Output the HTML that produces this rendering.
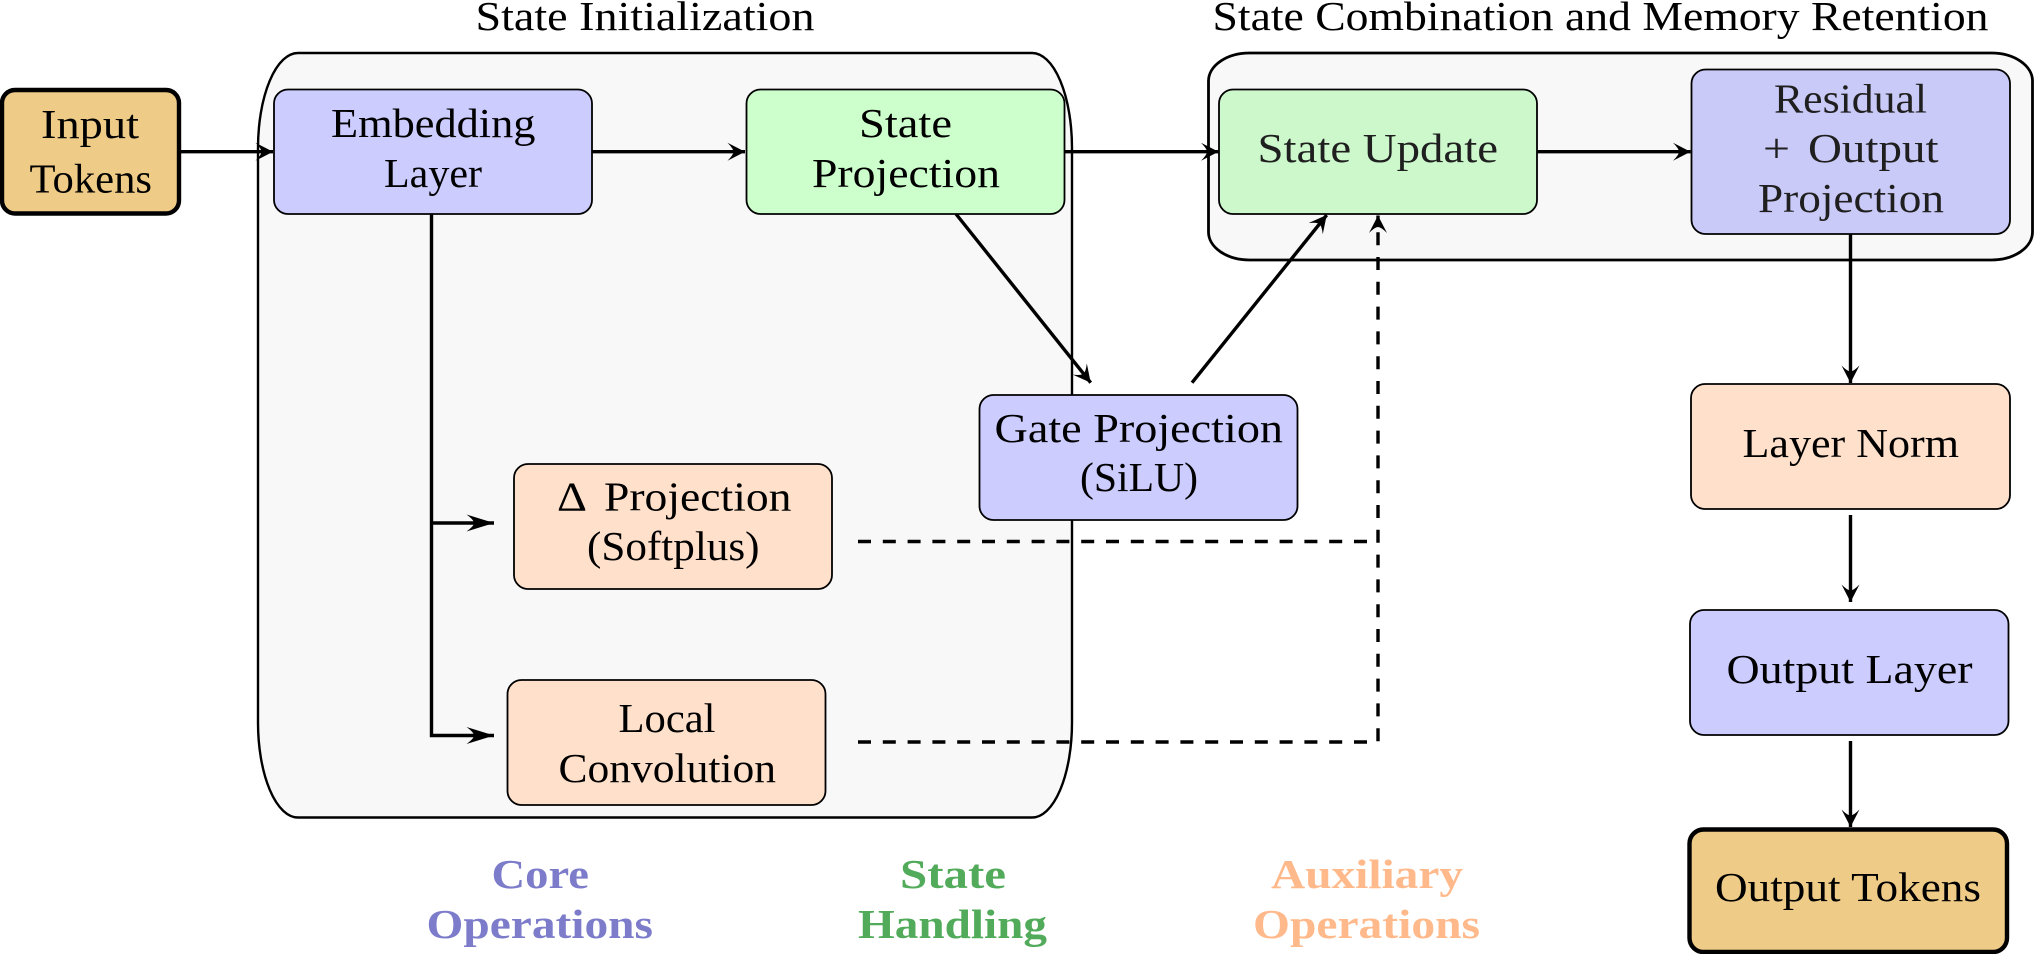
<!DOCTYPE html>
<html>
<head>
<meta charset="utf-8">
<style>
html,body{margin:0;padding:0;background:#fff;}
svg{display:block;}
text{font-family:"Liberation Serif",serif;font-size:41.5px;fill:#000;}
.b{font-weight:bold;}
.o{fill:#1f1f1f;}
</style>
</head>
<body>
<svg width="2034" height="954" viewBox="0 0 2034 954" xmlns="http://www.w3.org/2000/svg">
<defs>
<marker id="h" markerUnits="userSpaceOnUse" markerWidth="22" markerHeight="24" refX="18" refY="11" orient="auto">
<path d="M18 11 L0.500 2 Q6.500 8 6.500 11 Q6.500 14 0.500 20 Z" fill="#000"/>
</marker>
<marker id="l" markerUnits="userSpaceOnUse" markerWidth="30" markerHeight="24" refX="28" refY="11" orient="auto">
<path d="M28 11 L0.500 2.500 Q8 8 8 11 Q8 14 0.500 19.500 Z" fill="#000"/>
</marker>
</defs>

<!-- groups -->
<rect x="258" y="53" width="814" height="764.500" rx="40" ry="95" fill="#f8f8f8" stroke="#000" stroke-width="2.400"/>
<rect x="1208.500" y="53" width="824" height="207" rx="41" ry="28" fill="#f8f8f8" stroke="#000" stroke-width="2.800"/>

<!-- group titles -->
<text x="475.500" y="30" textLength="339" lengthAdjust="spacingAndGlyphs">State Initialization</text>
<text x="1212.500" y="30" textLength="776" lengthAdjust="spacingAndGlyphs">State Combination and Memory Retention</text>

<!-- connectors -->
<g fill="none" stroke="#000" stroke-width="3.400">
<path d="M431.500 214V735.500H494" marker-end="url(#l)"/>
<path d="M431.500 523H494" marker-end="url(#l)"/>
<path d="M180 151.700H273" marker-end="url(#h)"/>
<path d="M592 151.700H745" marker-end="url(#h)"/>
<path d="M1065 151.700H1218.500" marker-end="url(#h)"/>
<path d="M1537 151.700H1690.500" marker-end="url(#h)"/>
<path d="M956 214L1090.700 382.700" marker-end="url(#h)"/>
<path d="M1192 382.700L1326.700 215" marker-end="url(#h)"/>
<path d="M1850.500 234V383" marker-end="url(#h)"/>
<path d="M1850.500 515V602" marker-end="url(#h)"/>
<path d="M1850.500 741V827" marker-end="url(#h)"/>
<path d="M858 541.500H1378" stroke-dasharray="13 11.800"/>
<path d="M858 742H1378V215.500" stroke-dasharray="13 11.800" marker-end="url(#h)"/>
</g>

<!-- nodes -->
<g stroke="#000" stroke-width="1.800">
<rect x="2" y="90" width="177" height="123.500" rx="13" ry="13" fill="#eecb87" stroke-width="4.400"/>
<rect x="274" y="89.500" width="318" height="124.500" rx="14" fill="#ccccff"/>
<rect x="746.500" y="89.500" width="318" height="124.500" rx="14" fill="#ccffcc"/>
<rect x="1219" y="89.500" width="318" height="124.500" rx="14" fill="#ccf8cc"/>
<rect x="1691.500" y="69.500" width="318.500" height="164.500" rx="14" fill="#cacaf8"/>
<rect x="979.500" y="395" width="318" height="125" rx="14" fill="#ccccff"/>
<rect x="514" y="464" width="318" height="125" rx="14" fill="#fee0cb"/>
<rect x="507.500" y="680" width="318" height="125" rx="14" fill="#fee0cb"/>
<rect x="1691" y="384" width="319" height="125" rx="14" fill="#fee0cb"/>
<rect x="1690" y="610" width="318.500" height="125" rx="14" fill="#ccccff"/>
<rect x="1689.500" y="829.500" width="317.500" height="122.500" rx="14" fill="#eecb87" stroke-width="4.400"/>
</g>

<!-- node labels -->
<text x="41" y="138" textLength="98" lengthAdjust="spacingAndGlyphs">Input</text>
<text x="29.500" y="192.500" textLength="122.500" lengthAdjust="spacingAndGlyphs">Tokens</text>
<text x="331" y="137" textLength="204.500" lengthAdjust="spacingAndGlyphs">Embedding</text>
<text x="384" y="187" textLength="98" lengthAdjust="spacingAndGlyphs">Layer</text>
<text x="859" y="137" textLength="93" lengthAdjust="spacingAndGlyphs">State</text>
<text x="812" y="187" textLength="188" lengthAdjust="spacingAndGlyphs">Projection</text>
<text class="o" x="1257.500" y="162" textLength="240.500" lengthAdjust="spacingAndGlyphs">State Update</text>
<text class="o" x="1774" y="112.500" textLength="153" lengthAdjust="spacingAndGlyphs">Residual</text>
<text class="o" x="1763" y="162" textLength="27" lengthAdjust="spacingAndGlyphs">+</text>
<text class="o" x="1808" y="162" textLength="130.500" lengthAdjust="spacingAndGlyphs">Output</text>
<text class="o" x="1758" y="212" textLength="186" lengthAdjust="spacingAndGlyphs">Projection</text>
<text x="994.500" y="442" textLength="288.500" lengthAdjust="spacingAndGlyphs">Gate Projection</text>
<text x="1080" y="491" textLength="118" lengthAdjust="spacingAndGlyphs">(SiLU)</text>
<text x="557" y="510.500" textLength="30" lengthAdjust="spacingAndGlyphs">Δ</text>
<text x="604" y="510.500" textLength="187.500" lengthAdjust="spacingAndGlyphs">Projection</text>
<text x="587" y="560" textLength="172.500" lengthAdjust="spacingAndGlyphs">(Softplus)</text>
<text x="618.500" y="732" textLength="97" lengthAdjust="spacingAndGlyphs">Local</text>
<text x="558.500" y="782" textLength="217.500" lengthAdjust="spacingAndGlyphs">Convolution</text>
<text x="1742.500" y="457" textLength="216.500" lengthAdjust="spacingAndGlyphs">Layer Norm</text>
<text x="1726.500" y="683" textLength="246" lengthAdjust="spacingAndGlyphs">Output Layer</text>
<text x="1715" y="901" textLength="266" lengthAdjust="spacingAndGlyphs">Output Tokens</text>

<!-- legend -->
<text class="b" style="fill:#7c7ccb" x="491.500" y="888" textLength="97.500" lengthAdjust="spacingAndGlyphs">Core</text>
<text class="b" style="fill:#7c7ccb" x="426.500" y="938" textLength="226.500" lengthAdjust="spacingAndGlyphs">Operations</text>
<text class="b" style="fill:#52ab5a" x="900" y="888" textLength="106" lengthAdjust="spacingAndGlyphs">State</text>
<text class="b" style="fill:#52ab5a" x="858" y="938" textLength="189" lengthAdjust="spacingAndGlyphs">Handling</text>
<text class="b" style="fill:#ffb98a" x="1271" y="888" textLength="192" lengthAdjust="spacingAndGlyphs">Auxiliary</text>
<text class="b" style="fill:#ffb98a" x="1253" y="938" textLength="227" lengthAdjust="spacingAndGlyphs">Operations</text>
</svg>
</body>
</html>
